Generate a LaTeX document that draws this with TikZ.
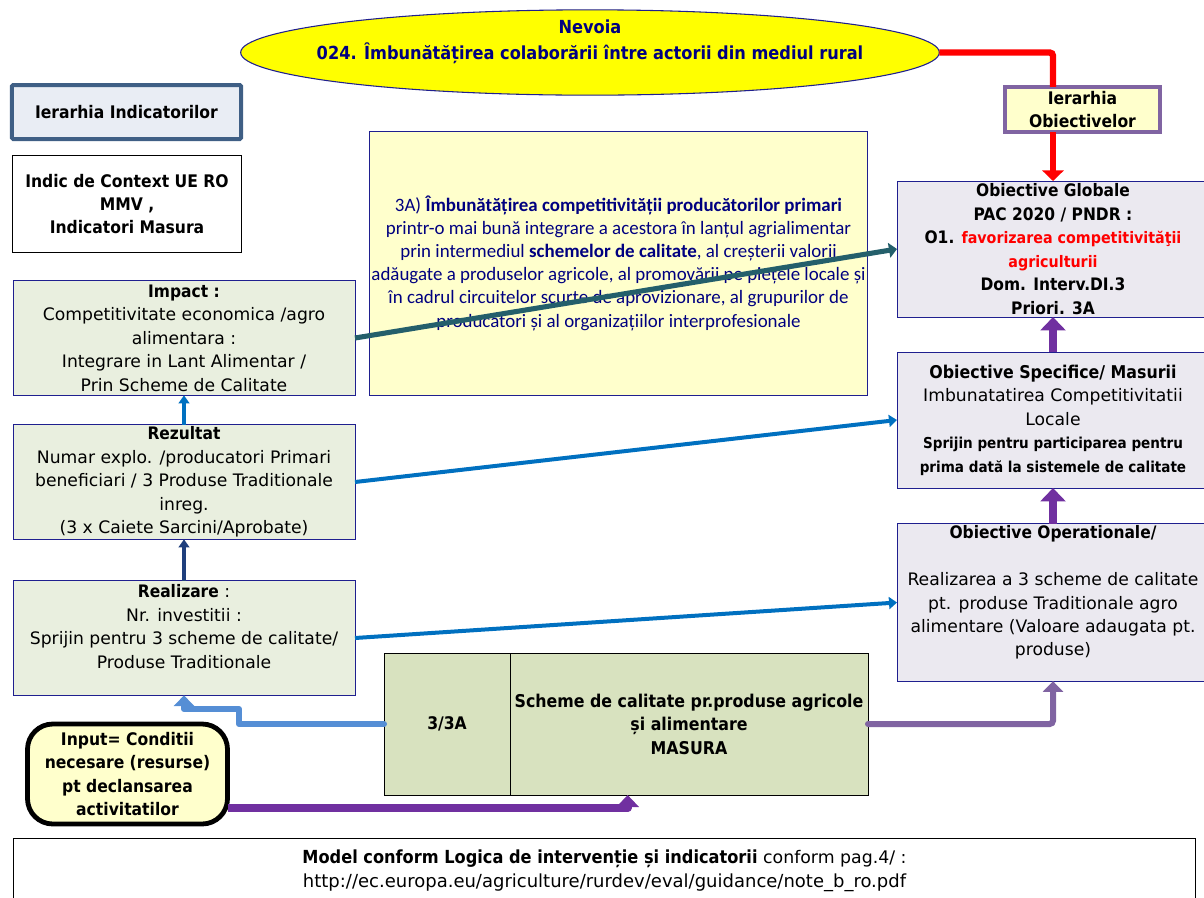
\documentclass[tikz,border=0pt]{standalone}
\usepackage{fontspec}
\setmainfont{DejaVu Sans}[BoldFont={DejaVu Sans Condensed Bold}]
\newfontfamily\calib{Carlito}
\usetikzlibrary{arrows.meta,shapes.geometric}
\definecolor{navyb}{HTML}{1F1F8F}
\definecolor{txtnavy}{HTML}{000080}
\definecolor{palegreen}{HTML}{E9EFDF}
\definecolor{paleyellow}{HTML}{FFFFCC}
\definecolor{palelilac}{HTML}{EBE9F0}
\definecolor{tablegreen}{HTML}{D8E2BF}
\definecolor{paleblue}{HTML}{E9EDF4}
\definecolor{frameblue}{HTML}{3F5F85}
\definecolor{brightyellow}{HTML}{FFFF00}
\definecolor{redline}{HTML}{FF0000}
\definecolor{tealline}{HTML}{245F6B}
\definecolor{blueline}{HTML}{0070C0}
\definecolor{darkblueline}{HTML}{1F3F7D}
\definecolor{purpleline}{HTML}{7030A0}
\definecolor{mauveline}{HTML}{8064A2}
\definecolor{lightblueline}{HTML}{558ED5}
\tikzset{
  px/.style={x=.75pt,y=-.75pt},
  base/.style={inner sep=0pt,outer sep=0pt,align=center,font=\fontsize{12.9}{17.6}\selectfont},
  indic/.style={base,draw=navyb,line width=.7pt,fill=palegreen,minimum width=256.5pt,minimum height=86pt},
  obj/.style={base,draw=navyb,line width=.7pt,fill=palelilac,minimum width=234pt},
  cell/.style={base,draw=black,line width=.7pt,fill=tablegreen,minimum height=106.5pt},
  conn/.style={rounded corners=2.5pt},
}
\newcommand{\redbit}[1]{{\fontsize{11.9}{17.6}\selectfont\textcolor{redline}{#1}}}
\newcommand{\smallbold}[1]{{\fontsize{11.3}{17.6}\selectfont\bfseries #1}}
\begin{document}
\begin{tikzpicture}[px]
\useasboundingbox (0,0) rectangle (1204,897);
\clip (0,0) rectangle (1204,897);
% nodes
\node[shape=ellipse,inner sep=0pt,outer sep=0pt,draw=navyb,line width=.8pt,fill=brightyellow,minimum width=524pt,minimum height=64pt,
  label={[base,text=txtnavy,font=\fontsize{13.5}{19.5}\selectfont\bfseries]center:{Nevoia\\024. Îmbunătățirea colaborării între actorii din mediul rural\\~}}] (need) at (590,52.5) {};
\node[base,draw=frameblue,line width=3pt,rounded corners=1pt,fill=paleblue,minimum width=172pt,minimum height=40.5pt,font=\fontsize{13}{17.6}\selectfont\bfseries] (ierind) at (126.5,112) {Ierarhia Indicatorilor};
\node[base,draw=black,line width=.7pt,fill=white,minimum width=171.5pt,minimum height=73pt,font=\fontsize{13}{17.6}\selectfont\bfseries] (context) at (127,204) {Indic de Context UE RO\\MMV ,\\Indicatori Masura};
\node[indic] (impact) at (184,338) {\textbf{Impact :}\\Competitivitate economica /agro\\alimentara :\\Integrare in Lant Alimentar /\\Prin Scheme de Calitate};
\node[indic] (rezultat) at (184,482) {\textbf{Rezultat}\\Numar explo. /producatori Primari\\beneficiari / 3 Produse Traditionale\\inreg.\\(3 x Caiete Sarcini/Aprobate)};
\node[indic] (realizare) at (184,638) {\textbf{Realizare} :\\Nr. investitii :\\Sprijin pentru 3 scheme de calitate/\\Produse Traditionale\\~};
\node[base,draw=navyb,line width=.7pt,fill=paleyellow,text=txtnavy,minimum width=374pt,minimum height=198pt,font=\calib\fontsize{14.2}{17.4}\selectfont] (yellowbox) at (618.5,263) {3A) \textbf{Îmbunătățirea competitivității producătorilor primari}\\printr-o mai bună integrare a acestora în lanțul agrialimentar\\prin intermediul \textbf{schemelor de calitate}, al creșterii valorii\\adăugate a produselor agricole, al promovării pe piețele locale și\\în cadrul circuitelor scurte de aprovizionare, al grupurilor de\\producători și al organizațiilor interprofesionale};
\node[base,draw=mauveline,line width=3pt,fill=paleyellow,minimum width=116pt,minimum height=34pt,font=\fontsize{13}{17}\selectfont\bfseries] (ierob) at (1082.5,109.5) {Ierarhia\\Obiectivelor};
\node[obj,minimum height=102pt] (oglob) at (1053,249) {\textbf{Obiective Globale}\\\textbf{PAC 2020 / PNDR :}\\\textbf{O1. \redbit{favorizarea competitivităţii}}\\\textbf{\redbit{agriculturii}}\\\textbf{Dom. Interv.DI.3}\\\textbf{Priori. 3A}};
\node[obj,minimum height=102pt] (ospec) at (1053,420) {{\fontsize{13.2}{17.6}\selectfont\bfseries Obiective Specifice/ Masurii}\\Imbunatatirea Competitivitatii\\Locale\\\smallbold{Sprijin pentru participarea pentru}\\\smallbold{prima dată la sistemele de calitate}};
\node[obj,minimum height=118pt] (ooper) at (1053,602.5) {\textbf{Obiective Operationale/}\\~\\Realizarea a 3 scheme de calitate\\pt. produse Traditionale agro\\alimentare (Valoare adaugata pt.\\produse)\\~};
\node[cell,minimum width=94.5pt,font=\fontsize{13}{17.6}\selectfont\bfseries] (masleft) at (447,724) {3/3A};
\node[cell,minimum width=268.5pt,font=\fontsize{13.2}{17.6}\selectfont\bfseries] (masright) at (689,724) {Scheme de calitate pr.produse agricole\\și alimentare\\MASURA};
\node[base,draw=black,line width=3.6pt,fill=paleyellow,rounded corners=19pt,minimum width=150pt,minimum height=75pt,font=\fontsize{13}{17.4}\selectfont\bfseries] (input) at (127.5,774) {Input= Conditii\\necesare (resurse)\\pt declansarea\\activitatilor};
\node[base,draw=black,line width=.7pt,fill=white,minimum width=887pt,minimum height=49pt,font=\fontsize{13}{17.6}\selectfont] (note) at (604.5,871) {{\fontsize{13.5}{17.6}\selectfont\textbf{Model conform Logica de intervenție și indicatorii}} conform pag.4/ :\\{\fontsize{13.5}{17.6}\selectfont http://ec.europa.eu/agriculture/rurdev/eval/guidance/note\_b\_ro.pdf}};
% connectors
\draw[conn,redline,line width=4.8pt] (need.east) -| (ierob.north -| oglob.north);
\draw[redline,line width=4.8pt,-{Triangle[length=8pt,width=16pt]}] (ierob.south -| oglob.north) -- (oglob.north);
\draw[tealline,line width=3.8pt,-{Triangle[length=6pt,width=11pt]}] (impact.east) -- (oglob.west);
\draw[blueline,line width=3pt,-{Triangle[length=6pt,width=9pt]}] (rezultat.east) -- (ospec.west);
\draw[blueline,line width=3pt,-{Triangle[length=6pt,width=9pt]}] (realizare.east) -- (ooper.west);
\draw[blueline,line width=2.6pt,-{Triangle[length=6pt,width=8pt]}] (rezultat.north) -- (impact.south);
\draw[darkblueline,line width=2.6pt,-{Triangle[length=6pt,width=8pt]}] (realizare.north) -- (rezultat.south);
\draw[purpleline,line width=6.5pt,-{Triangle[length=10pt,width=18.5pt]}] (ospec.north) -- (oglob.south);
\draw[purpleline,line width=6.5pt,-{Triangle[length=10pt,width=18.5pt]}] (ooper.north) -- (ospec.south);
\draw[conn,mauveline,line width=4.5pt,line cap=round,-{Triangle[length=8pt,width=15pt]}] (masright.east) -| (ooper.south);
\draw[lightblueline,line width=4.5pt,line cap=round,line join=round,-{Triangle[length=8pt,width=15pt]}] (masleft.west) -- ++(-145,0) -- ++(0,-15) -| (realizare.south);
\draw[purpleline,line width=6pt,line join=round,-{Triangle[length=9pt,width=16.5pt]}] ([yshift=-25.5pt]input.east) -| ([xshift=-46pt]masright.south);
\end{tikzpicture}
\end{document}
